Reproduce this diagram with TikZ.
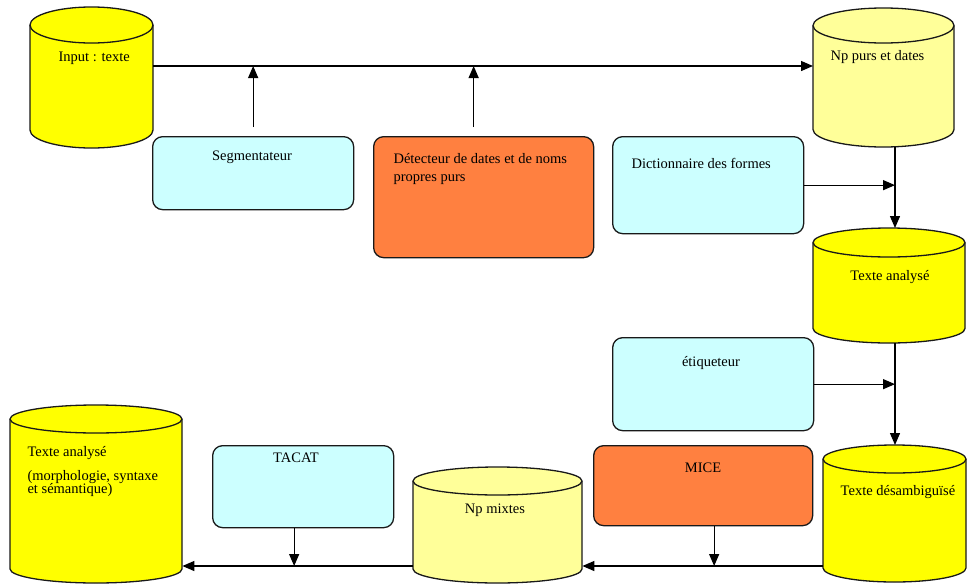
\documentclass[tikz,border=0pt]{standalone}
\usepackage{fontspec}
\setmainfont{Liberation Serif}
\usepackage{tikz}
\usetikzlibrary{positioning,arrows.meta}
\definecolor{dbyellow}{RGB}{255,255,0}
\definecolor{dbpale}{RGB}{255,255,153}
\definecolor{toolcyan}{RGB}{204,255,255}
\definecolor{toolorange}{RGB}{255,128,64}
% cylindre : [couleur]{nom}{x gauche}{haut}{x droite}{bas}{rayon y}
\newcommand{\dbcyl}[7][dbyellow]{%
  \pgfmathsetmacro\dbrx{(#5-#3)/2}%
  \pgfmathsetmacro\dbw{#5-#3}%
  \pgfmathsetmacro\dbh{#6-#4}%
  \path[dbase, fill=#1] (#3,#4+#7) -- (#3,#6-#7)
    arc[start angle=180, end angle=360, x radius=\dbrx pt, y radius=#7pt]
    -- (#5,#4+#7)
    arc[start angle=0, end angle=180, x radius=\dbrx pt, y radius=#7pt] -- cycle;
  \draw[dbase] (#3,#4+#7)
    arc[start angle=180, end angle=360, x radius=\dbrx pt, y radius=#7pt];
  \node[anchor=north west, inner sep=0pt, minimum width=\dbw pt,
        minimum height=\dbh pt] (#2) at (#3,#4) {};
}
\tikzset{
  dbase/.style={draw=black!90, line width=1.3pt},
  tbox/.style={draw=black!90, line width=1.3pt, rounded corners=10pt,
               anchor=north west, inner sep=0pt},
  ltext/.style={font=\fontsize{14.5}{16}\selectfont, anchor=west, align=left},
  ctext/.style={font=\fontsize{14.5}{16}\selectfont},
  flow/.style={-{Triangle[length=12pt,width=10pt]}, line width=1.3pt, black},
}
\begin{document}
\begin{tikzpicture}[x=1pt,y=-1pt]
  \fill[white] (0,0) rectangle (967,584);
  \useasboundingbox (0,0) rectangle (967,584);

  % --- bases de textes ---
  \dbcyl{input}{30}{7}{153}{148}{18}
  \dbcyl[dbpale]{nppurs}{813}{8}{954}{147}{17.5}
  \dbcyl{anal}{813}{228}{965}{343}{14.5}
  \dbcyl{desamb}{823}{445}{966}{582}{14}
  \dbcyl{final}{10}{405}{182}{583}{14}
  \dbcyl[dbpale]{npmix}{413}{467}{582}{583}{14}

  \node[ltext] (inputT) at (55,58) {Input : texte};
  \node[ltext] (nppursT) at (827,57) {Np purs et dates};
  \node[ctext] (analT) at (890,277) {Texte analysé};
  \node[ctext] (desambT) at (898,492) {Texte désambiguïsé};
  \node[ltext, anchor=north west] (finalT) at (24,443)
    {Texte analysé\\[8pt](morphologie, syntaxe\\[-3pt]et sémantique)};
  \node[ctext] (npmixT) at (495,510) {Np mixtes};

  % --- modules ---
  \node[tbox, fill=toolcyan, minimum width=201pt, minimum height=73pt] (seg) at (152,136) {};
  \node[tbox, fill=toolorange, minimum width=220pt, minimum height=121pt] (detect) at (373,136) {};
  \node[tbox, fill=toolcyan, minimum width=191pt, minimum height=97pt] (dict) at (612,136) {};
  \node[tbox, fill=toolcyan, minimum width=201pt, minimum height=93pt] (etiq) at (612,337) {};
  \node[tbox, fill=toolorange, minimum width=219pt, minimum height=80pt] (mice) at (593,445) {};
  \node[tbox, fill=toolcyan, minimum width=181pt, minimum height=82pt] (tacat) at (212,445) {};

  \node[ctext] (segT) at (252,157) {Segmentateur};
  \node[ltext, anchor=north west, font=\fontsize{14.5}{18}\selectfont] (detectT) at (390,150)
    {Détecteur de dates et de noms\\propres purs};
  \node[ltext] (dictT) at (628,163) {Dictionnaire des formes};
  \node[ctext] (etiqT) at (711,363) {étiqueteur};
  \node[ctext] (miceT) at (703,468) {MICE};
  \node[ctext] (tacatT) at (296,458) {TACAT};

  % --- fleches ---
  \coordinate (topline) at (0,66);
  \coordinate (vline) at (895,0);
  \coordinate (botline) at (0,566);
  \draw[flow] (input.east |- topline) -- (nppurs.west |- topline);
  \coordinate (segUp) at ([yshift=9pt]seg.north);
  \draw[flow] (segUp) -- (segUp |- topline);
  \coordinate (detectUp) at ([shift={(-10pt,9pt)}]detect.north);
  \draw[flow] (detectUp) -- (detectUp |- topline);
  \draw[flow] (nppurs.south -| vline) -- (anal.north -| vline);
  \draw[flow] (dict.east) -- (dict.east -| vline);
  \draw[flow] (anal.south -| vline) -- (desamb.north -| vline);
  \draw[flow] (etiq.east) -- (etiq.east -| vline);
  \draw[flow] (desamb.west |- botline) -- (npmix.east |- botline);
  \draw[flow] (npmix.west |- botline) -- (final.east |- botline);
  \coordinate (miceDn) at ([xshift=11pt]mice.south);
  \draw[flow] (miceDn) -- (miceDn |- botline);
  \coordinate (tacatDn) at ([xshift=-9pt]tacat.south);
  \draw[flow] (tacatDn) -- (tacatDn |- botline);
\end{tikzpicture}
\end{document}
